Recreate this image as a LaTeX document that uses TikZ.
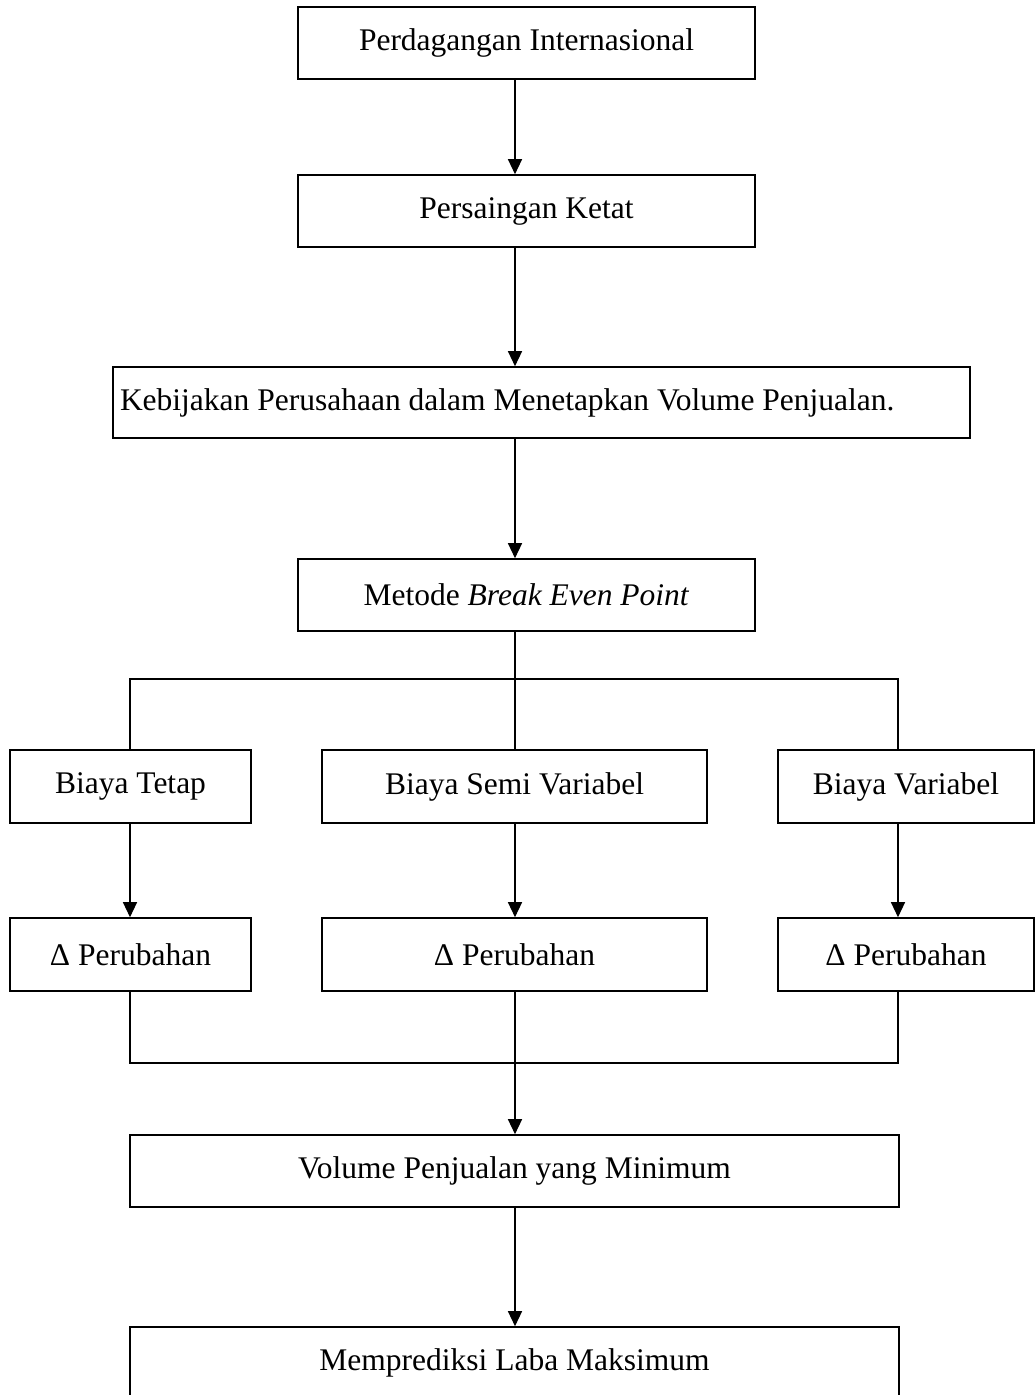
\documentclass[tikz,border=0pt]{standalone}
\usepackage{fontspec}
\setmainfont{Liberation Serif}
\usetikzlibrary{arrows.meta}
\begin{document}
\begin{tikzpicture}[x=1pt,y=-1pt,
  box/.style={draw, line width=1.6pt, inner sep=0pt, align=center,
    font=\fontsize{31.5}{38}\selectfont},
  conn/.style={line width=1.3pt},
  arr/.style={conn, -{Triangle[width=14pt,length=15pt]}}]
\fill[white] (0,0) rectangle (1035,1395);
\useasboundingbox (0,0) rectangle (1035,1395);
\coordinate (sx) at (515,0);
\coordinate (cl) at (130,0);
\coordinate (cr) at (898,0);
\coordinate (br) at (515,679);
\coordinate (mg) at (515,1063);

\node[box, minimum width=457pt, minimum height=72pt] (n1) at (526.5,43) {Perdagangan Internasional};
\node[box, minimum width=457pt, minimum height=72pt] (n2) at (526.5,211) {Persaingan Ketat};
\node[box, minimum width=857pt, minimum height=71pt, text width=843pt, align=flush left] (n3) at (541.5,402.5) {Kebijakan Perusahaan dalam Menetapkan Volume Penjualan.};
\node[box, minimum width=457pt, minimum height=72pt] (n4) at (526.5,595) {Metode \textit{Break Even Point}};
\node[box, minimum width=241pt, minimum height=73pt] (n5) at (130.5,786.5) {Biaya Tetap};
\node[box, minimum width=385pt, minimum height=73pt] (n6) at (514.5,786.5) {Biaya Semi Variabel};
\node[box, minimum width=256pt, minimum height=73pt] (n7) at (906,786.5) {Biaya Variabel};
\node[box, minimum width=241pt, minimum height=73pt] (n8) at (130.5,954.5) {Δ Perubahan};
\node[box, minimum width=385pt, minimum height=73pt] (n9) at (514.5,954.5) {Δ Perubahan};
\node[box, minimum width=256pt, minimum height=73pt] (n10) at (906,954.5) {Δ Perubahan};
\node[box, minimum width=769pt, minimum height=72pt] (n11) at (514.5,1171) {Volume Penjualan yang Minimum};
\node[box, minimum width=769pt, minimum height=72pt] (n12) at (514.5,1363) {Memprediksi Laba Maksimum};

\draw[arr] (n1.south -| sx) -- (n2.north -| sx);
\draw[arr] (n2.south -| sx) -- (n3.north -| sx);
\draw[arr] (n3.south -| sx) -- (n4.north -| sx);

\draw[conn] (n4.south -| sx) -- (br) -- (n6.north -| sx);
\draw[conn] (n5.north -| cl) -- (cl |- br) -- (cr |- br) -- (n7.north -| cr);

\draw[arr] (n5.south -| cl) -- (n8.north -| cl);
\draw[arr] (n6.south -| sx) -- (n9.north -| sx);
\draw[arr] (n7.south -| cr) -- (n10.north -| cr);

\draw[conn] (n8.south -| cl) -- (cl |- mg) -- (cr |- mg) -- (n10.south -| cr);
\draw[arr] (n9.south -| sx) -- (n11.north -| sx);
\draw[arr] (n11.south -| sx) -- (n12.north -| sx);
\end{tikzpicture}
\end{document}
